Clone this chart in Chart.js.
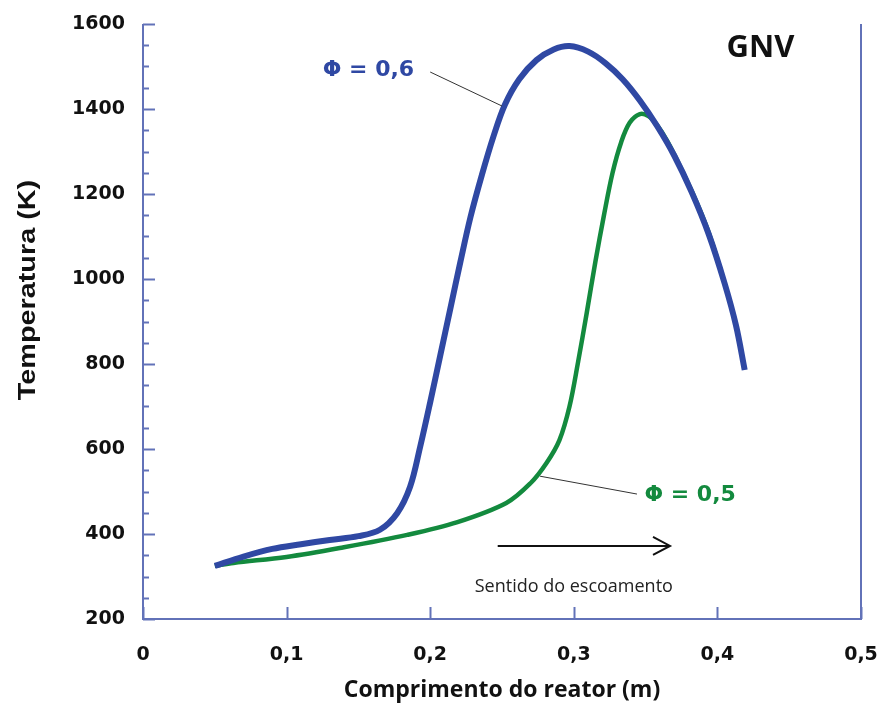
<!DOCTYPE html>
<html>
<head>
<meta charset="utf-8">
<script src="https://cdn.jsdelivr.net/npm/chart.js@4.4.1/dist/chart.umd.min.js"></script>
<style>
  html, body { margin: 0; padding: 0; background: #fff; }
</style>
</head>
<body>
<canvas id="myChart" width="880" height="704"></canvas>
<script>
// Phi = 0,6
const xPhi06 = [0.05, 0.07, 0.09, 0.11, 0.13, 0.15, 0.165, 0.177, 0.186, 0.193, 0.200, 0.207, 0.214, 0.221, 0.228, 0.236, 0.244, 0.252, 0.262, 0.274, 0.286, 0.297, 0.310, 0.322, 0.334, 0.346, 0.358, 0.370, 0.382, 0.394, 0.405, 0.413, 0.419];
const yPhi06 = [325, 347, 365, 376, 386, 395, 410, 449, 511, 605, 710, 820, 930, 1040, 1145, 1245, 1335, 1410, 1470, 1515, 1540, 1548, 1535, 1508, 1470, 1420, 1360, 1290, 1205, 1105, 990, 890, 786];

// Phi = 0,5
const xPhi05 = [0.05, 0.063, 0.1, 0.137, 0.184, 0.219, 0.253, 0.270, 0.281, 0.290, 0.297, 0.303, 0.309, 0.315, 0.321, 0.327, 0.333, 0.339, 0.346, 0.352, 0.358, 0.365, 0.374, 0.383, 0.393, 0.402];
const yPhi05 = [325, 332, 346, 367, 398, 428, 473, 520, 567, 621, 700, 805, 920, 1040, 1150, 1250, 1322, 1368, 1388, 1383, 1362, 1325, 1265, 1200, 1118, 1025];

const xTicks = [0, 0.1, 0.2, 0.3, 0.4, 0.5];
const yTicks = [200, 400, 600, 800, 1000, 1200, 1400, 1600];
const yMinorStep = 50;

const seriesNames = ["\u03A6 = 0,6", "\u03A6 = 0,5"];
const blue = "#2f48a3";
const green = "#138a3e";
const axisColor = "#6272b8";

function toPoints(xs, ys) {
  return xs.map((x, i) => ({ x: x, y: ys[i] }));
}

// annotation anchors in data units
const notes = {
  lab06: { x: 0.157, y: 1492 },
  ptr06: [{ x: 0.200, y: 1487 }, { x: 0.250, y: 1407 }],
  lab05: { x: 0.381, y: 492 },
  ptr05: [{ x: 0.2765, y: 536 }, { x: 0.344, y: 494 }],
  gnv: { x: 0.43, y: 1543 },
  arrow: [{ x: 0.247, y: 372 }, { x: 0.367, y: 372 }],
  flow: { x: 0.300, y: 275 },
};

const decor = {
  id: "decor",
  afterDraw(chart) {
    const ctx = chart.ctx;
    const xs = chart.scales.x;
    const ys = chart.scales.y;
    const a = chart.chartArea;
    const px = (p) => xs.getPixelForValue(p.x);
    const py = (p) => ys.getPixelForValue(p.y);

    ctx.save();
    // axes + right frame line
    ctx.strokeStyle = axisColor;
    ctx.lineWidth = 2;
    ctx.beginPath();
    ctx.moveTo(a.left, a.top);
    ctx.lineTo(a.left, a.bottom);
    ctx.lineTo(a.right, a.bottom);
    ctx.lineTo(a.right, a.top);
    ctx.stroke();

    // y ticks (major + minor)
    for (let v = yTicks[0]; v <= yTicks[yTicks.length - 1]; v += yMinorStep) {
      const y = Math.round(ys.getPixelForValue(v)) + 0.5;
      const len = v % 200 === 0 ? 12 : 6;
      ctx.beginPath();
      ctx.moveTo(a.left, y);
      ctx.lineTo(a.left + len, y);
      ctx.stroke();
    }
    // x ticks
    xTicks.forEach((v) => {
      const x = Math.round(xs.getPixelForValue(v)) + 0.5;
      ctx.beginPath();
      ctx.moveTo(x, a.bottom);
      ctx.lineTo(x, a.bottom - 12);
      ctx.stroke();
    });

    // pointer lines
    ctx.strokeStyle = "#333";
    ctx.lineWidth = 1;
    [notes.ptr06, notes.ptr05].forEach((seg) => {
      ctx.beginPath();
      ctx.moveTo(px(seg[0]), py(seg[0]));
      ctx.lineTo(px(seg[1]), py(seg[1]));
      ctx.stroke();
    });

    // flow arrow
    ctx.strokeStyle = "#111";
    ctx.lineWidth = 2;
    const ax0 = px(notes.arrow[0]), ax1 = px(notes.arrow[1]), ay = py(notes.arrow[0]);
    ctx.beginPath();
    ctx.moveTo(ax0, ay);
    ctx.lineTo(ax1, ay);
    ctx.moveTo(ax1 - 17, ay - 9);
    ctx.lineTo(ax1, ay);
    ctx.lineTo(ax1 - 17, ay + 9);
    ctx.stroke();

    // texts
    ctx.textAlign = "center";
    ctx.textBaseline = "middle";
    ctx.font = "bold 22px 'DejaVu Sans'";
    ctx.fillStyle = blue;
    ctx.fillText(seriesNames[0], px(notes.lab06), py(notes.lab06));
    ctx.fillStyle = green;
    ctx.fillText(seriesNames[1], px(notes.lab05), py(notes.lab05));

    ctx.fillStyle = "#111";
    ctx.font = "bold 31px 'Open Sans'";
    ctx.fillText("GNV", px(notes.gnv), py(notes.gnv));
    ctx.font = "18px 'Open Sans'";
    ctx.fillStyle = "#222";
    ctx.fillText("Sentido do escoamento", px(notes.flow), py(notes.flow));

    // axis titles
    ctx.fillStyle = "#111";
    ctx.font = "bold 23px 'Open Sans'";
    ctx.fillText("Comprimento do reator (m)", (a.left + a.right) / 2, 690);
    ctx.save();
    ctx.translate(28, 290);
    ctx.rotate(-Math.PI / 2);
    ctx.scale(1.2, 1);
    ctx.font = "bold 24px 'Liberation Sans'";
    ctx.fillText("Temperatura (K)", 0, 0);
    ctx.restore();

    ctx.restore();
  },
};

new Chart("myChart", {
  type: "line",
  data: {
    datasets: [
      {
        label: seriesNames[0],
        data: toPoints(xPhi06, yPhi06),
        borderColor: blue,
        borderWidth: 6,
        pointRadius: 0,
        tension: 0.35,
        fill: false,
      },
      {
        label: seriesNames[1],
        data: toPoints(xPhi05, yPhi05),
        borderColor: green,
        borderWidth: 4.5,
        pointRadius: 0,
        tension: 0.35,
        fill: false,
      },
    ],
  },
  options: {
    responsive: false,
    animation: false,
    layout: { padding: { left: 0, right: 19, top: 24, bottom: 0 } },
    plugins: { legend: { display: false }, tooltip: { enabled: false } },
    scales: {
      x: {
        type: "linear",
        min: 0,
        max: 0.5,
        afterFit: (s) => { s.height = 85; s.paddingLeft = 0; s.paddingRight = 0; },
        afterBuildTicks: (s) => { s.ticks = xTicks.map((v) => ({ value: v })); },
        grid: { display: false, drawTicks: false },
        border: { display: false },
        ticks: {
          padding: 25,
          color: "#111",
          font: { family: "DejaVu Sans", size: 19, weight: "bold" },
          callback: (v) => (v === 0 ? "0" : v.toFixed(1).replace(".", ",")),
        },
      },
      y: {
        min: 200,
        max: 1600,
        afterFit: (s) => { s.width = 143; s.paddingTop = 0; s.paddingBottom = 0; },
        afterBuildTicks: (s) => { s.ticks = yTicks.map((v) => ({ value: v })); },
        grid: { display: false, drawTicks: false },
        border: { display: false },
        ticks: {
          padding: 18,
          color: "#111",
          font: { family: "DejaVu Sans", size: 19, weight: "bold" },
          callback: (v) => String(v),
        },
      },
    },
  },
  plugins: [decor],
});
</script>
</body>
</html>
